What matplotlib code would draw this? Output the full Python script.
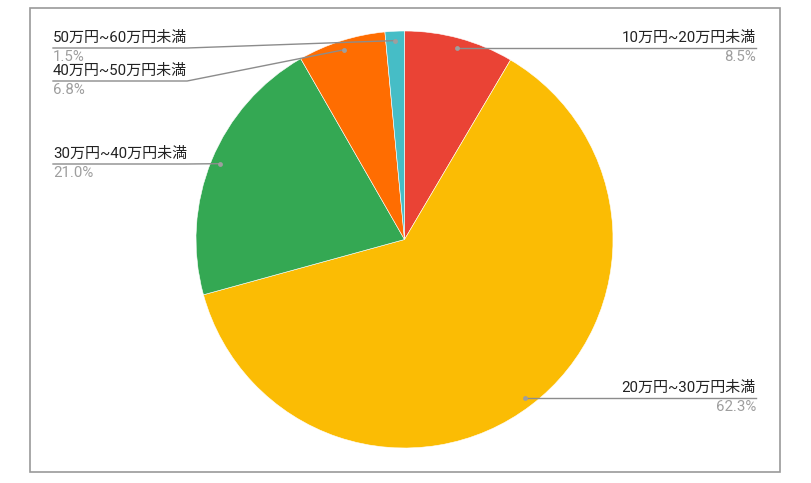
import numpy as np
import matplotlib
matplotlib.use("Agg")
import matplotlib.pyplot as plt
from matplotlib.patches import Rectangle

# data
labels = ["10万円~20万円未満", "20万円~30万円未満", "30万円~40万円未満",
          "40万円~50万円未満", "50万円~60万円未満"]
shares = [8.5, 62.3, 21.0, 6.8, 1.5]
colors = ["#EA4335", "#FBBC04", "#34A853", "#FF6D01", "#46BDC6"]

# label layout (pixel rows of the underline, side of the chart)
label_rows = [48, 398, 164, 81, 48]
label_side = ["right", "right", "left", "left", "left"]

W, H = 811, 483
fig = plt.figure(figsize=(W / 100, H / 100), dpi=100)
ax = fig.add_axes([0, 0, 1, 1])

cx, cy, R = 404.5, H - 239.5, 208.5
ax.add_patch(Rectangle((29.5, H - 472), 750.5, 464.5, fill=False,
                       edgecolor="#9a9a9a", lw=1.2))

wedges, _ = ax.pie(shares, colors=colors, startangle=90, counterclock=False,
                   center=(cx, cy), radius=R, frame=True,
                   wedgeprops=dict(linewidth=0.4, edgecolor="white"))
ax.set_xlim(0, W)
ax.set_ylim(0, H)
ax.set_aspect("equal")
ax.axis("off")

fam = ["Roboto", "Noto Sans CJK JP", "DejaVu Sans"]
line_c = "#8c8c8c"
fig.canvas.draw()
renderer = fig.canvas.get_renderer()

for w, lab, pct, row, side in zip(wedges, labels, shares, label_rows, label_side):
    ang = np.deg2rad((w.theta1 + w.theta2) / 2)
    dx, dy = cx + 0.955 * R * np.cos(ang), cy + 0.955 * R * np.sin(ang)
    y = H - row
    if side == "right":
        xt, ha = 756, "right"
    else:
        xt, ha = 53, "left"
    t = ax.text(xt, y + 3, lab, ha=ha, va="bottom", fontsize=10.8,
                color="#222222", family=fam)
    ax.text(xt, y - 2, f"{pct:.1f}%", ha=ha, va="top", fontsize=10.8,
            color="#9e9e9e", family=fam)
    bb = t.get_window_extent(renderer).transformed(ax.transData.inverted())
    if side == "right":
        ax.plot([dx, xt], [y, y], color=line_c, lw=1)
    else:
        xe = bb.x1
        if dx > xe:
            ax.plot([xt, xe, dx], [y, y, dy], color=line_c, lw=1)
        else:
            ax.plot([xt, dx], [y, y], color=line_c, lw=1)
    ax.plot(dx, dy if side == "left" else y, "o", ms=3.5, color="#9e9e9e",
            mec="none")

fig.savefig("out.png", dpi=100)
